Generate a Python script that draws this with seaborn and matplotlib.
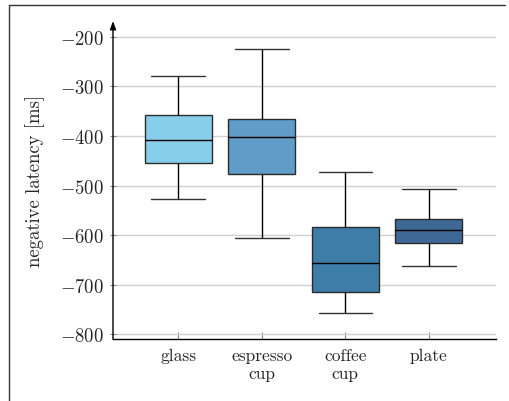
import pandas as pd
import matplotlib.pyplot as plt
import seaborn as sns
from matplotlib.lines import Line2D

# five-number summaries (ms, negative latency)
objects = ["glass", "espresso\ncup", "coffee\ncup", "plate"]
lower = [-527, -605, -758, -662]
q1 = [-455, -477, -715, -615]
median = [-408, -402, -656, -590]
q3 = [-357, -365, -583, -567]
upper = [-278, -224, -472, -506]
colors = ["#87ceeb", "#5f9dc8", "#3f7da9", "#3e6896"]

rows = []
for i, name in enumerate(objects):
    for v in (lower[i], q1[i], median[i], q3[i], upper[i]):
        rows.append({"object": name, "latency": v})
df = pd.DataFrame(rows)

sns.set_theme(style="whitegrid")
plt.rcParams.update({
    "font.family": "serif",
    "font.serif": ["cmr10"],
    "mathtext.fontset": "cm",
    "axes.formatter.use_mathtext": True,
    "axes.unicode_minus": True,
    "grid.color": "#d0d0d0",
    "grid.linewidth": 1.0,
})

fig = plt.figure(figsize=(5.09, 4.02), dpi=100)
ax = fig.add_axes([0.222, 0.154, 0.752, 0.791])

sns.boxplot(data=df, x="object", y="latency", hue="object", palette=colors,
            saturation=1, width=0.8, whis=(0, 100), linecolor="#2b2b2b",
            linewidth=1.0, legend=False, ax=ax,
            whiskerprops={"color": "black"}, capprops={"color": "#333333"},
            medianprops={"color": "black"})

# wider caps than seaborn's default
for ln in ax.lines:
    xs, ys = ln.get_xdata(), ln.get_ydata()
    if len(xs) == 2 and ys[0] == ys[1] and abs(abs(xs[1] - xs[0]) - 0.4) < 1e-6:
        c = (xs[0] + xs[1]) / 2
        ln.set_xdata([c - 0.32, c + 0.32])

ax.set_xlim(-0.78, 3.8)
ax.set_ylim(-810, -168)
ax.set_yticks([-800, -700, -600, -500, -400, -300, -200])
ax.grid(axis="x", visible=False)
ax.grid(axis="y", visible=True)
ax.set_axisbelow(True)

ax.set_xlabel("")
ax.set_ylabel("negative latency [ms]", fontsize=13.5, labelpad=11)
ax.tick_params(axis="y", labelsize=13.5, direction="inout", length=5,
               width=0.8, color="#888888", left=True, pad=4)
ax.tick_params(axis="x", labelsize=12.5, direction="in", length=5,
               width=0.8, color="#888888", bottom=True, pad=6)

for s in ["top", "right", "left"]:
    ax.spines[s].set_visible(False)
ax.spines["bottom"].set_color("black")
ax.spines["bottom"].set_linewidth(1.0)
ax.annotate("", xy=(0, 1), xytext=(0, 0), xycoords="axes fraction",
            arrowprops=dict(arrowstyle="-|>,head_width=0.15,head_length=0.4",
                            color="black", lw=1.0, shrinkA=0, shrinkB=0))

# outer frame (left and top edges)
fig.add_artist(Line2D([9 / 509, 9 / 509], [0, 1 - 6 / 402], color="#333333",
                      lw=1.0, transform=fig.transFigure))
fig.add_artist(Line2D([9 / 509, 505 / 509], [1 - 6 / 402, 1 - 6 / 402],
                      color="#333333", lw=1.0, transform=fig.transFigure))

fig.savefig("out.png", dpi=100)
